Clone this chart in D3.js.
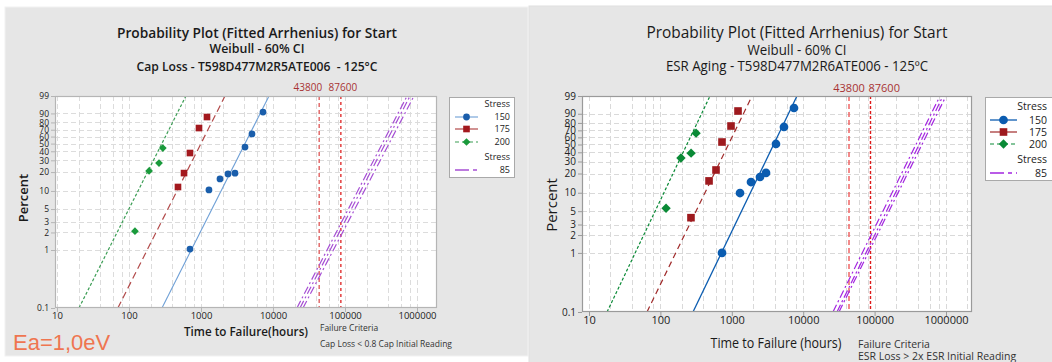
<!DOCTYPE html>
<html><head><meta charset="utf-8">
<script src="https://cdn.jsdelivr.net/npm/d3@7"></script>
<style>body{margin:0;background:#fff;} svg{display:block} text{font-family:"Open Sans","Noto Sans",sans-serif;}</style>
</head><body>
<svg id="c" width="1052" height="362"></svg>
<script>
// ---------------- DATA ----------------
const stressLevels = ["150", "175", "200"];
const useStress = "85";
const refLines = [43800, 87600];
const xTickValues = [10, 100, 1000, 10000, 100000, 1000000];
const yTickValues = [0.1, 1, 2, 3, 5, 10, 20, 30, 40, 50, 60, 70, 80, 90, 99];
const yGridValues = [1, 2, 3, 5, 10, 20, 30, 40, 50, 60, 70, 80, 90];
const gridMultipliers = [1, 2, 4, 6, 8];

// Left chart: Cap Loss
const capTimes150 = [703, 1290, 1835, 2371, 2966, 4084, 5106, 7262];
const capPct150   = [1.04, 10.4, 15.6, 18.7, 19.2, 45.4, 63.8, 91.2];
const capTimes175 = [479, 581, 703, 938, 1211];
const capPct175   = [11.6, 19.3, 37.9, 72.4, 86.4];
const capTimes200 = [121, 190, 261, 295];
const capPct200   = [2.1, 20.8, 27.4, 44];
const capFit150 = [287, 8800];     // time at 0.1% and at 99%
const capFit175 = [70, 2154];
const capFit200 = [20.2, 617];
const capFit85  = [[21500, 727000], [23700, 800000], [26100, 908000]];

// Right chart: ESR Aging
const esrTimes150 = [729, 1303, 1858, 2482, 3013, 4157, 5379, 7430];
const esrPct150   = [1.0, 9.9, 14.8, 17.7, 20.4, 50.7, 74.7, 94.4];
const esrTimes175 = [268, 480, 601, 729, 975, 1222];
const esrPct175   = [3.9, 15.4, 22.6, 53.4, 76, 92.3];
const esrTimes200 = [120, 194, 269, 316];
const esrPct200   = [5.6, 33.6, 39, 66];
const esrFit150 = [286, 8183];
const esrFit175 = [64.9, 1919];
const esrFit200 = [17.9, 495];
const esrFit85  = [[26100, 824000], [29700, 908000], [31700, 1000000]];

// ---------------- DRAW ----------------
const svg = d3.select("#c");
const wb = p => Math.log(-Math.log(1 - p / 100));
const fmtTime = d3.format("d");

function fit(sel, w) {
  sel.attr("textLength", w).attr("lengthAdjust", "spacingAndGlyphs");
  return sel;
}

function drawPanel(cfg, id) {
  const g = svg.append("g");
  g.append("rect").attr("x", cfg.bg[0]).attr("y", cfg.bg[1]).attr("width", cfg.bg[2]).attr("height", cfg.bg[3])
    .attr("fill", "#e6e6e6").attr("stroke", cfg.bgStroke).attr("stroke-width", 1);

  cfg.titles.forEach(t => {
    fit(g.append("text").attr("x", cfg.cx).attr("y", t.y).attr("text-anchor", "middle")
      .attr("font-size", t.size).attr("font-weight", t.weight).attr("fill", "#1a1a1a")
      .style("white-space", "pre").text(t.text), t.w);
  });

  const P = cfg.plot;
  const x = d3.scaleLog().domain([10, 1e6]).range([P.x10, P.x1e6]);
  const y = d3.scaleLinear().domain([wb(0.1), wb(99)]).range([P.bottom, P.top]);

  g.append("rect").attr("x", P.left).attr("y", P.top).attr("width", P.right - P.left).attr("height", P.bottom - P.top)
    .attr("fill", "#fff");

  const clipId = "clip" + id;
  g.append("clipPath").attr("id", clipId).append("rect")
    .attr("x", P.left).attr("y", P.top).attr("width", P.right - P.left).attr("height", P.bottom - P.top);

  const xGrid = [];
  [10, 100, 1000, 10000, 100000, 1000000].forEach(d => gridMultipliers.forEach(m => xGrid.push(d * m)));
  const grid = g.append("g").attr("stroke", cfg.gridColor).attr("stroke-width", 1).attr("stroke-dasharray", "5,3");
  grid.selectAll(".vx").data(xGrid.filter(v => x(v) > P.left + 1 && x(v) < P.right - 1)).join("line")
    .attr("x1", d => Math.round(x(d)) + 0.5).attr("x2", d => Math.round(x(d)) + 0.5)
    .attr("y1", P.top).attr("y2", P.bottom);
  grid.selectAll(".hy").data(yGridValues).join("line")
    .attr("y1", d => Math.round(y(wb(d))) + 0.5).attr("y2", d => Math.round(y(wb(d))) + 0.5)
    .attr("x1", P.left).attr("x2", P.right);

  const plotG = g.append("g").attr("clip-path", `url(#${clipId})`);

  refLines.forEach((v, i) => {
    plotG.append("line").attr("x1", x(v)).attr("x2", x(v)).attr("y1", P.top).attr("y2", P.bottom)
      .attr("stroke", cfg.refColors[i]).attr("stroke-width", 1.4).attr("stroke-dasharray", cfg.refDash[i]);
    g.append("text").attr("x", x(v) + cfg.refLabelDx[i]).attr("y", cfg.refLabelY)
      .attr("text-anchor", cfg.refAnchor[i]).attr("font-size", cfg.refFont).attr("fill", "#a83232").text(fmtTime(v));
  });

  const lineGen = d3.line().x(d => x(d[0])).y(d => y(wb(d[1])));
  cfg.series.forEach(s => {
    plotG.append("path").datum([[s.fit[0], 0.1], [s.fit[1], 99]]).attr("d", lineGen)
      .attr("fill", "none").attr("stroke", s.lineColor).attr("stroke-width", s.lw).attr("stroke-dasharray", s.dash);
  });
  cfg.use.forEach(f => {
    plotG.append("path").datum([[f[0], 0.1], [f[1], 99]]).attr("d", lineGen)
      .attr("fill", "none").attr("stroke", cfg.useColor).attr("stroke-width", 1.2).attr("stroke-dasharray", "8,3,2,3");
  });

  cfg.series.forEach(s => {
    const pts = s.times.map((t, i) => [t, s.pct[i]]);
    g.append("g").selectAll("path").data(pts).join("path")
      .attr("d", d3.symbol().type(s.symbol).size(s.size))
      .attr("transform", d => `translate(${x(d[0])},${y(wb(d[1]))}) rotate(${s.rot})`)
      .attr("fill", s.color);
  });

  g.append("rect").attr("x", P.left + 0.5).attr("y", P.top + 0.5).attr("width", P.right - P.left - 1).attr("height", P.bottom - P.top - 1)
    .attr("fill", "none").attr("stroke", cfg.frameColor).attr("stroke-width", 1.2);

  const xAxis = d3.axisBottom(x).tickValues(xTickValues).tickFormat(fmtTime).tickSize(4).tickSizeOuter(0);
  const xa = g.append("g").attr("transform", `translate(0,${P.bottom})`).call(xAxis);
  xa.select(".domain").remove();
  xa.selectAll("line").attr("stroke", cfg.frameColor);
  xa.selectAll("text").attr("font-size", cfg.tickFont).attr("fill", "#222").attr("dy", "0").attr("y", cfg.xTickDy)
    .style("font-family", '"Open Sans","Noto Sans",sans-serif');

  const yAxis = d3.axisLeft(y).tickValues(yTickValues.map(wb)).tickFormat((d, i) => yTickValues[i]).tickSize(4).tickSizeOuter(0);
  const ya = g.append("g").attr("transform", `translate(${P.left},0)`).call(yAxis);
  ya.select(".domain").remove();
  ya.selectAll("line").attr("stroke", cfg.frameColor);
  ya.selectAll("text").attr("font-size", cfg.yTickFont).attr("fill", "#222").attr("x", -6)
    .style("font-family", '"Open Sans","Noto Sans",sans-serif');

  g.append("text").attr("transform", `translate(${cfg.yTitle[0]},${cfg.yTitle[1]}) rotate(-90)`)
    .attr("text-anchor", "middle").attr("font-size", cfg.axisFont).attr("font-weight", cfg.axisWeight)
    .attr("fill", "#1a1a1a").text("Percent");
  fit(g.append("text").attr("x", cfg.xTitle[0]).attr("y", cfg.xTitle[1]).attr("text-anchor", "middle")
    .attr("font-size", cfg.axisFont).attr("font-weight", cfg.axisWeight).attr("fill", "#1a1a1a")
    .text(cfg.xTitleText), cfg.xTitle[2]);

  cfg.criteria.lines.forEach((t, i) => {
    g.append("text").attr("x", cfg.criteria.x).attr("y", cfg.criteria.y[i]).attr("font-size", cfg.criteria.size)
      .attr("fill", "#333").text(t);
  });

  const L = cfg.legend;
  g.append("rect").attr("x", L.x0 + 0.5).attr("y", L.y0 + 0.5).attr("width", L.x1 - L.x0).attr("height", L.y1 - L.y0)
    .attr("fill", "#fff").attr("stroke", "#a9a9a9");
  g.append("text").attr("x", L.textX).attr("y", L.rows[0] - L.headGap).attr("text-anchor", "end")
    .attr("font-size", L.font).attr("fill", "#222").text("Stress");
  cfg.series.forEach((s, i) => {
    const cy = L.rows[i];
    g.append("line").attr("x1", L.lx0).attr("x2", L.lx1).attr("y1", cy).attr("y2", cy)
      .attr("stroke", s.lineColor).attr("stroke-width", s.lw).attr("stroke-dasharray", s.legDash);
    g.append("path").attr("d", d3.symbol().type(s.symbol).size(s.size))
      .attr("transform", `translate(${(L.lx0 + L.lx1) / 2},${cy}) rotate(${s.rot})`).attr("fill", s.color);
    g.append("text").attr("x", L.textX).attr("y", cy + L.font * 0.36).attr("text-anchor", "end")
      .attr("font-size", L.font).attr("fill", "#222").text(stressLevels[i]);
  });
  g.append("text").attr("x", L.textX).attr("y", L.rows[3] - L.headGap).attr("text-anchor", "end")
    .attr("font-size", L.font).attr("fill", "#222").text("Stress");
  g.append("line").attr("x1", L.lx0).attr("x2", L.lx1).attr("y1", L.rows[3]).attr("y2", L.rows[3])
    .attr("stroke", cfg.useColor).attr("stroke-width", 1.3).attr("stroke-dasharray", "14,4,4,4");
  g.append("text").attr("x", L.textX).attr("y", L.rows[3] + L.font * 0.36).attr("text-anchor", "end")
    .attr("font-size", L.font).attr("fill", "#222").text(useStress);
  return g;
}

const blue = "#0b5cb0", red = "#9e1a1e", green = "#0a8a36";

const leftCfg = {
  bg: [5, 7, 523, 349], bgStroke: "#f2f2f2", cx: 257,
  titles: [
    { text: "Probability Plot (Fitted Arrhenius) for Start", y: 38, size: 15, weight: 600, w: 280 },
    { text: "Weibull - 60% CI", y: 53, size: 12.5, weight: 600, w: 95 },
    { text: "Cap Loss - T598D477M2R5ATE006  - 125°C", y: 71, size: 12.5, weight: 600, w: 241 }
  ],
  plot: { left: 55, right: 437, top: 96, bottom: 308, x10: 57, x1e6: 417 },
  gridColor: "#dcdcdc", frameColor: "#b5b5b5",
  refColors: ["#e06060", "#e03030"], refDash: ["4,3", "3,3"], refLabelDx: [3, 2], refAnchor: ["end", "middle"],
  refLabelY: 91, refFont: 10,
  series: [
    { times: capTimes150, pct: capPct150, fit: capFit150, color: "#1a5eab", lineColor: "#6e9fd6", lw: 1.1, dash: null, legDash: null, symbol: d3.symbolCircle, size: 36, rot: 0 },
    { times: capTimes175, pct: capPct175, fit: capFit175, color: "#a3191e", lineColor: "#b24a4a", lw: 1.2, dash: "7,4", legDash: null, symbol: d3.symbolSquare, size: 44, rot: 0 },
    { times: capTimes200, pct: capPct200, fit: capFit200, color: "#1a9a3c", lineColor: "#3c9e55", lw: 1.2, dash: "3,2", legDash: "4,3", symbol: d3.symbolSquare, size: 30, rot: 45 }
  ],
  use: capFit85, useColor: "#a64fd4",
  tickFont: 9.5, yTickFont: 8.5, xTickDy: 11, axisFont: 13, axisWeight: 600,
  yTitle: [28, 198], xTitle: [246, 336, 124], xTitleText: "Time to Failure(hours)",
  criteria: { x: 320, y: [331, 347], size: 8.5, lines: ["Failure Criteria", "Cap Loss < 0.8 Cap Initial Reading"] },
  legend: { x0: 449, x1: 514, y0: 97, y1: 177, rows: [117, 129, 142, 170], headGap: 10, textX: 510, lx0: 455, lx1: 478, font: 9 }
};

const rightCfg = {
  bg: [529, 6, 530, 360], bgStroke: "#e0e0e0", cx: 797,
  titles: [
    { text: "Probability Plot (Fitted Arrhenius) for Start", y: 38, size: 16.5, weight: 400, w: 301 },
    { text: "Weibull - 60% CI", y: 55, size: 14, weight: 400, w: 99 },
    { text: "ESR Aging - T598D477M2R6ATE006 - 125ºC", y: 71, size: 14, weight: 400, w: 262 }
  ],
  plot: { left: 582, right: 972, top: 96, bottom: 312, x10: 589, x1e6: 946 },
  gridColor: "#d9d9d9", frameColor: "#9a9a9a",
  refColors: ["#ee5a5a", "#e01818"], refDash: ["5,3", "3,2"], refLabelDx: [0, -2], refAnchor: ["middle", "start"],
  refLabelY: 92, refFont: 11,
  series: [
    { times: esrTimes150, pct: esrPct150, fit: esrFit150, color: blue, lineColor: blue, lw: 1.3, dash: null, legDash: null, symbol: d3.symbolCircle, size: 60, rot: 0 },
    { times: esrTimes175, pct: esrPct175, fit: esrFit175, color: red, lineColor: "#a02a2a", lw: 1.2, dash: "6,4", legDash: null, symbol: d3.symbolSquare, size: 58, rot: 0 },
    { times: esrTimes200, pct: esrPct200, fit: esrFit200, color: green, lineColor: green, lw: 1.2, dash: "3,2", legDash: "4,3", symbol: d3.symbolSquare, size: 44, rot: 45 }
  ],
  use: esrFit85, useColor: "#a326e0",
  tickFont: 11, yTickFont: 10, xTickDy: 12, axisFont: 15, axisWeight: 400,
  yTitle: [557, 205], xTitle: [776, 348, 131], xTitleText: "Time to Failure (hours)",
  criteria: { x: 858, y: [348, 360], size: 10.5, lines: ["Failure Criteria", "ESR Loss > 2x ESR Initial Reading"] },
  legend: { x0: 985, x1: 1060, y0: 97, y1: 180, rows: [120, 132, 144, 173], headGap: 10, textX: 1047, lx0: 990, lx1: 1017, font: 10.5 }
};

drawPanel(leftCfg, "L");
drawPanel(rightCfg, "R");

svg.append("text").attr("x", 13).attr("y", 350).attr("font-size", 22)
  .style("font-family", '"Liberation Sans",Arial,sans-serif').attr("fill", "#ef7550").text("Ea=1,0eV");
</script>
</body></html>
